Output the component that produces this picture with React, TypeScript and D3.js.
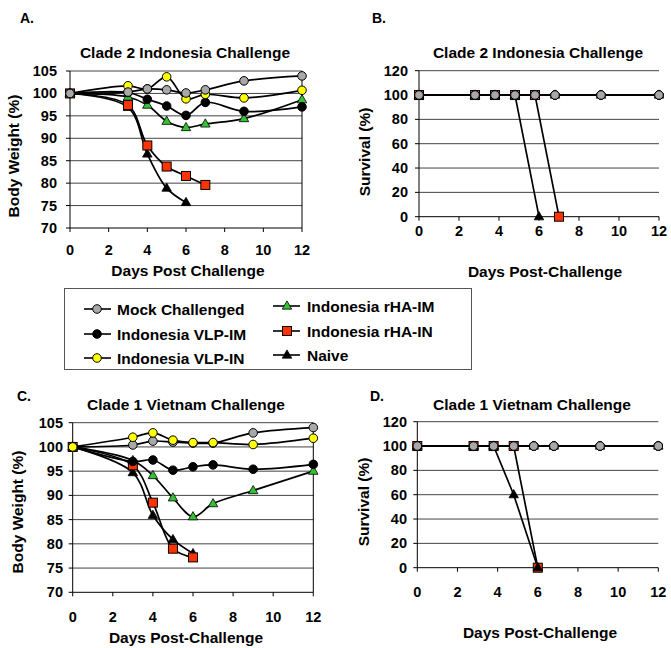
import React from 'react';
import * as d3 from 'd3';

// ---------- DATA ----------
const weightDays = [0, 3, 4, 5, 6, 7, 9, 12];
const naiveDaysA = [0, 3, 4, 5, 6];
const rhaInDaysA = [0, 3, 4, 5, 6, 7];
const earlyDaysC = [0, 3, 4, 5, 6];

// Panel A: Clade 2 Indonesia body weight
const aMock = [100, 100.3, 101, 100.8, 100.1, 100.8, 102.8, 103.9];
const aVlpIm = [100, 100.2, 98.7, 97.2, 95.1, 98.0, 96.0, 97.0];
const aVlpIn = [100, 101.7, 101.0, 103.7, 98.8, 99.8, 99.0, 100.7];
const aRhaIm = [100, 99.2, 97.4, 93.8, 92.4, 93.2, 94.4, 98.6];
const aRhaIn = [100, 97.4, 88.4, 83.7, 81.6, 79.6];
const aNaive = [100, 96.9, 86.5, 78.9, 75.7];

// Panel C: Clade 1 Vietnam body weight
const cMock = [100, 100.4, 101.2, 101.0, 100.8, 100.8, 102.9, 104.0];
const cVlpIm = [100, 97.0, 97.3, 95.2, 95.9, 96.3, 95.4, 96.4];
const cVlpIn = [100, 102.0, 102.9, 101.4, 100.9, 100.9, 100.5, 101.8];
const cRhaIm = [100, 97.2, 94.1, 89.5, 85.6, 88.3, 91.0, 95.0];
const cRhaIn = [100, 96.2, 88.5, 79.0, 77.2];
const cNaive = [100, 94.7, 85.9, 80.9, 78.0];

// Survival (B, D)
const survDays = [0, 2.8, 3.8, 4.8, 5.8, 6.8, 9.1, 12];
const survAll = [100, 100, 100, 100, 100, 100, 100, 100];
const bNaiveDays = [0, 2.8, 3.8, 4.8, 6];
const bNaive = [100, 100, 100, 100, 0];
const bRhaInDays = [0, 2.8, 3.8, 4.8, 5.8, 7];
const bRhaIn = [100, 100, 100, 100, 100, 0];
const dNaiveDays = [0, 2.8, 3.8, 4.8, 6];
const dNaive = [100, 100, 100, 60, 0];
const dRhaInDays = [0, 2.8, 3.8, 4.8, 6];
const dRhaIn = [100, 100, 100, 100, 0];

const xTicks = [0, 2, 4, 6, 8, 10, 12];
const weightTicks = [70, 75, 80, 85, 90, 95, 100, 105];
const survTicks = [0, 20, 40, 60, 80, 100, 120];

const legendNames = ['Mock Challenged', 'Indonesia VLP-IM', 'Indonesia VLP-IN', 'Indonesia rHA-IM', 'Indonesia rHA-IN', 'Naive'];

// ---------- STYLE ----------
const FONT = '"Liberation Sans", Arial, Helvetica, sans-serif';
const GRAY = '#a8a8a8';
const YELLOW = '#ffff00';
const GREEN = '#33c233';
const RED = '#ff3300';
const LABEL_SIZE = 15.5;
const TICK_SIZE = 14.5;

type Marker = 'circle' | 'square' | 'triangle';
type Style = { marker: Marker; fill: string };
const styles: Style[] = [
  { marker: 'circle', fill: GRAY },
  { marker: 'circle', fill: '#000' },
  { marker: 'circle', fill: YELLOW },
  { marker: 'triangle', fill: GREEN },
  { marker: 'square', fill: RED },
  { marker: 'triangle', fill: '#000' },
];

type Series = { xs: number[]; ys: number[]; style: number };

function MarkerShape({ m, cx, cy }: { m: Style; cx: number; cy: number }) {
  if (m.marker === 'circle') return <circle cx={cx} cy={cy} r={4.3} fill={m.fill} stroke="#000" strokeWidth={1} />;
  if (m.marker === 'square') return <rect x={cx - 4.5} y={cy - 4.5} width={9} height={9} fill={m.fill} stroke="#000" strokeWidth={1} />;
  const s = 9.5;
  const h = s * 0.866;
  return <path d={`M${cx},${cy - h * 0.62}L${cx + s / 2},${cy + h * 0.38}L${cx - s / 2},${cy + h * 0.38}Z`} fill={m.fill} stroke="#000" strokeWidth={0.8} />;
}

type PanelCfg = {
  left: number; right: number; top: number; bottom: number;
  yDomain: [number, number]; yTicks: number[];
  rightBorder: boolean; smooth: boolean; lineWidth: number;
  series: Series[];
  title: string; titleX: number; titleY: number;
  letter: string; letterX: number; letterY: number;
  xLabel: string; xLabelX: number; xLabelY: number;
  yLabel: string; yLabelX: number; yLabelY: number;
  xTickLabelY: number; yTickLabelX: number;
};

function Panel({ c }: { c: PanelCfg }) {
  const x = d3.scaleLinear().domain([0, 12]).range([c.left, c.right]);
  const y = d3.scaleLinear().domain(c.yDomain).range([c.bottom, c.top]);
  const line = d3.line<[number, number]>()
    .x(d => x(d[0])).y(d => y(d[1]))
    .curve(c.smooth ? d3.curveCatmullRom.alpha(0.5) : d3.curveLinear);
  return (
    <g fontFamily={FONT} fontWeight="bold">
      <text x={c.letterX} y={c.letterY} fontSize={14}>{c.letter}</text>
      <text x={c.titleX} y={c.titleY} fontSize={LABEL_SIZE} textAnchor="middle">{c.title}</text>
      {c.yTicks.filter(t => t !== c.yDomain[0]).map(t => (
        <line key={'g' + t} x1={c.left} x2={c.right} y1={y(t)} y2={y(t)} stroke="#444" strokeWidth={1} />
      ))}
      <line x1={c.left} x2={c.left} y1={c.top} y2={c.bottom} stroke="#000" strokeWidth={1} />
      <line x1={c.left} x2={c.right} y1={c.bottom} y2={c.bottom} stroke="#000" strokeWidth={1} />
      {c.rightBorder && <line x1={c.right} x2={c.right} y1={c.top} y2={c.bottom} stroke="#000" strokeWidth={1} />}
      {c.yTicks.map(t => (
        <g key={'y' + t}>
          <line x1={c.left - 4} x2={c.left} y1={y(t)} y2={y(t)} stroke="#000" />
          <text x={c.yTickLabelX} y={y(t) + 5} fontSize={TICK_SIZE} textAnchor="end">{t}</text>
        </g>
      ))}
      {xTicks.map(t => (
        <g key={'x' + t}>
          <line x1={x(t)} x2={x(t)} y1={c.bottom} y2={c.bottom + 4} stroke="#000" />
          <text x={x(t)} y={c.xTickLabelY} fontSize={TICK_SIZE} textAnchor="middle">{t}</text>
        </g>
      ))}
      <text x={c.xLabelX} y={c.xLabelY} fontSize={LABEL_SIZE} textAnchor="middle">{c.xLabel}</text>
      <text transform={`translate(${c.yLabelX},${c.yLabelY}) rotate(-90)`} fontSize={LABEL_SIZE} textAnchor="middle">{c.yLabel}</text>
      {c.series.map((s, i) => (
        <path key={'l' + i} d={line(s.xs.map((v, j) => [v, s.ys[j]] as [number, number])) || ''}
          fill="none" stroke="#000" strokeWidth={c.lineWidth} />
      ))}
      {c.series.map((s, i) => (
        <g key={'m' + i}>
          {s.xs.map((v, j) => <MarkerShape key={j} m={styles[s.style]} cx={x(v)} cy={y(s.ys[j])} />)}
        </g>
      ))}
    </g>
  );
}

const panelA: PanelCfg = {
  left: 70, right: 302, top: 71, bottom: 228, yDomain: [70, 105], yTicks: weightTicks,
  rightBorder: true, smooth: true, lineWidth: 1.7,
  series: [
    { xs: naiveDaysA, ys: aNaive, style: 5 },
    { xs: rhaInDaysA, ys: aRhaIn, style: 4 },
    { xs: weightDays, ys: aRhaIm, style: 3 },
    { xs: weightDays, ys: aVlpIm, style: 1 },
    { xs: weightDays, ys: aVlpIn, style: 2 },
    { xs: weightDays, ys: aMock, style: 0 },
  ],
  title: 'Clade 2 Indonesia Challenge', titleX: 185, titleY: 58,
  letter: 'A.', letterX: 20, letterY: 23,
  xLabel: 'Days Post Challenge', xLabelX: 188, xLabelY: 276,
  yLabel: 'Body Weight (%)', yLabelX: 19, yLabelY: 156,
  xTickLabelY: 255, yTickLabelX: 57,
};

const panelB: PanelCfg = {
  left: 419, right: 659, top: 70.7, bottom: 216.7, yDomain: [0, 120], yTicks: survTicks,
  rightBorder: false, smooth: false, lineWidth: 1.7,
  series: [
    { xs: survDays, ys: survAll, style: 3 },
    { xs: survDays, ys: survAll, style: 2 },
    { xs: survDays, ys: survAll, style: 1 },
    { xs: bRhaInDays, ys: bRhaIn, style: 4 },
    { xs: bNaiveDays, ys: bNaive, style: 5 },
    { xs: survDays, ys: survAll, style: 0 },
  ],
  title: 'Clade 2 Indonesia Challenge', titleX: 538, titleY: 58,
  letter: 'B.', letterX: 372, letterY: 23,
  xLabel: 'Days Post-Challenge', xLabelX: 545, xLabelY: 277,
  yLabel: 'Survival (%)', yLabelX: 370, yLabelY: 152,
  xTickLabelY: 236, yTickLabelX: 408,
};

const panelC: PanelCfg = {
  left: 72.7, right: 313.3, top: 422.7, bottom: 592.3, yDomain: [70, 105], yTicks: weightTicks,
  rightBorder: true, smooth: true, lineWidth: 1.7,
  series: [
    { xs: earlyDaysC, ys: cNaive, style: 5 },
    { xs: earlyDaysC, ys: cRhaIn, style: 4 },
    { xs: weightDays, ys: cRhaIm, style: 3 },
    { xs: weightDays, ys: cVlpIm, style: 1 },
    { xs: weightDays, ys: cMock, style: 0 },
    { xs: weightDays, ys: cVlpIn, style: 2 },
  ],
  title: 'Clade 1 Vietnam Challenge', titleX: 186, titleY: 410,
  letter: 'C.', letterX: 17, letterY: 401,
  xLabel: 'Days Post-Challenge', xLabelX: 186, xLabelY: 643,
  yLabel: 'Body Weight (%)', yLabelX: 23, yLabelY: 512,
  xTickLabelY: 622, yTickLabelX: 63,
};

const panelD: PanelCfg = {
  left: 417.3, right: 658.3, top: 421.7, bottom: 567.7, yDomain: [0, 120], yTicks: survTicks,
  rightBorder: false, smooth: false, lineWidth: 1.7,
  series: [
    { xs: survDays, ys: survAll, style: 3 },
    { xs: survDays, ys: survAll, style: 2 },
    { xs: survDays, ys: survAll, style: 1 },
    { xs: dRhaInDays, ys: dRhaIn, style: 4 },
    { xs: dNaiveDays, ys: dNaive, style: 5 },
    { xs: survDays, ys: survAll, style: 0 },
  ],
  title: 'Clade 1 Vietnam Challenge', titleX: 532, titleY: 410,
  letter: 'D.', letterX: 370, letterY: 401,
  xLabel: 'Days Post-Challenge', xLabelX: 540, xLabelY: 638,
  yLabel: 'Survival (%)', yLabelX: 369, yLabelY: 502,
  xTickLabelY: 597, yTickLabelX: 407,
};

function Legend() {
  const cols = [
    { lx: 84, mx: 97, tx: 117, ys: [309, 334, 358] },
    { lx: 273, mx: 287, tx: 307, ys: [306, 331, 355] },
  ];
  const items = legendNames.map((n, i) => {
    const col = cols[Math.floor(i / 3)];
    return { n, i, col, y: col.ys[i % 3] };
  });
  return (
    <g fontFamily={FONT} fontWeight="bold">
      <rect x={64.5} y={288.5} width={407} height={81} fill="#fff" stroke="#555" strokeWidth={1} />
      {items.map(it => (
        <g key={it.n}>
          <line x1={it.col.lx} x2={it.col.lx + 27} y1={it.y} y2={it.y} stroke="#000" strokeWidth={1.6} />
          <MarkerShape m={styles[it.i]} cx={it.col.mx} cy={it.y} />
          <text x={it.col.tx} y={it.y + 5.5} fontSize={LABEL_SIZE}>{it.n}</text>
        </g>
      ))}
    </g>
  );
}

export default function App() {
  return (
    <svg width={671} height={648} style={{ position: 'absolute', left: 0, top: 0, background: '#fff' }}>
      <rect width={671} height={648} fill="#fff" />
      <Panel c={panelA} />
      <Panel c={panelB} />
      <Legend />
      <Panel c={panelC} />
      <Panel c={panelD} />
    </svg>
  );
}
